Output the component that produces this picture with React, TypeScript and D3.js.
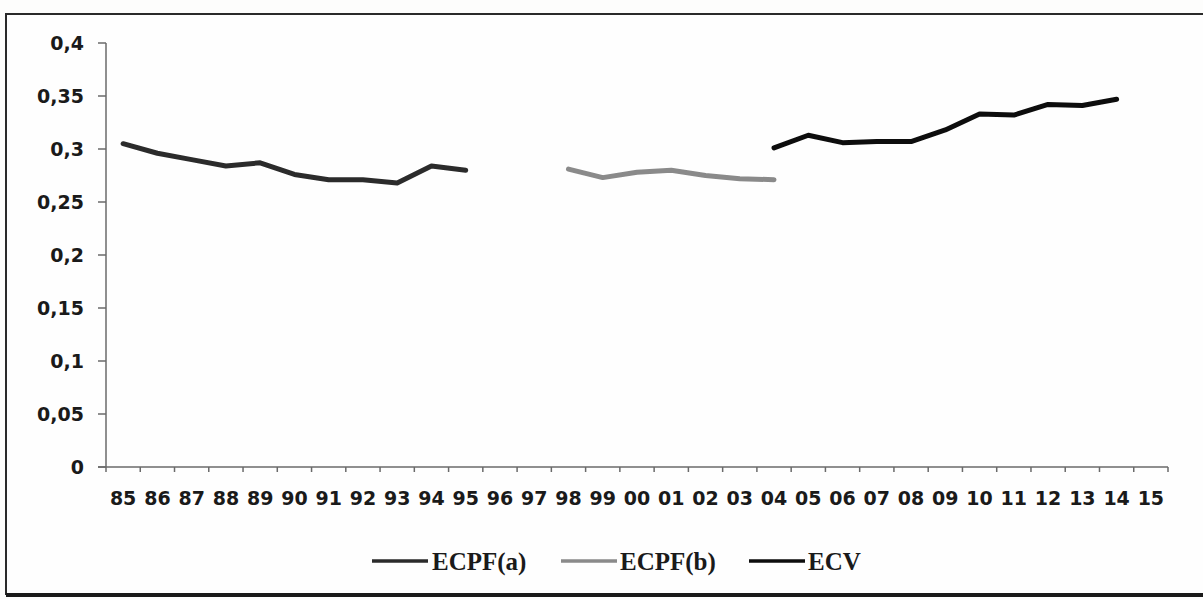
import React from "react";
import * as d3 from "d3";

const categories = ["85","86","87","88","89","90","91","92","93","94","95","96","97","98","99","00","01","02","03","04","05","06","07","08","09","10","11","12","13","14","15"];
const ecpfA: (number | null)[] = [0.305,0.296,0.290,0.284,0.287,0.276,0.271,0.271,0.268,0.284,0.280,null,null,null,null,null,null,null,null,null,null,null,null,null,null,null,null,null,null,null,null];
const ecpfB: (number | null)[] = [null,null,null,null,null,null,null,null,null,null,null,null,null,0.281,0.273,0.278,0.280,0.275,0.272,0.271,null,null,null,null,null,null,null,null,null,null,null];
const ecv: (number | null)[] = [null,null,null,null,null,null,null,null,null,null,null,null,null,null,null,null,null,null,null,0.301,0.313,0.306,0.307,0.307,0.318,0.333,0.332,0.342,0.341,0.347,null];
const yTicks = [0,0.05,0.1,0.15,0.2,0.25,0.3,0.35,0.4];
const seriesNames = ["ECPF(a)","ECPF(b)","ECV"];
const seriesColors = ["#2b2b2b","#8a8a8a","#0d0d0d"];

const W = 1203, H = 599;
const left = 106, right = 1168, top = 43, bottom = 467;

export default function App() {
  const x = d3.scaleBand<string>().domain(categories).range([left, right]).padding(0);
  const y = d3.scaleLinear().domain([0, 0.4]).range([bottom, top]);
  const series = [ecpfA, ecpfB, ecv];
  const line = d3.line<number | null>()
    .defined(d => d !== null)
    .x((_, i) => (x(categories[i]) as number) + x.bandwidth() / 2)
    .y(d => y(d as number));
  const boundaries = categories.map(c => x(c) as number).concat([right]);
  const axisColor = "#6a6a6a";
  const legendItems = [
    { lx: 372, tx: 432 },
    { lx: 561, tx: 620 },
    { lx: 749, tx: 808 },
  ];
  return (
    <svg width={W} height={H} style={{ position: "absolute", left: 0, top: 0, background: "#fdfdfc" }}>
      <rect x={6} y={14} width={1230} height={580} fill="#fefefe" stroke="#2a2a2a" strokeWidth={2} />
      <line x1={6} x2={1203} y1={595} y2={595} stroke="#1a1a1a" strokeWidth={4} />
      {/* y axis */}
      <line x1={left} x2={left} y1={top} y2={bottom} stroke={axisColor} strokeWidth={1.5} />
      {yTicks.map(t => (
        <g key={t}>
          <line x1={left - 8} x2={left} y1={y(t)} y2={y(t)} stroke={axisColor} strokeWidth={1.5} />
          <text x={84} y={y(t)} dy="0.36em" textAnchor="end" fontFamily="DejaVu Sans" fontWeight="bold" fontSize={19} fill="#1a1a1a">
            {String(t).replace(".", ",")}
          </text>
        </g>
      ))}
      {/* x axis */}
      <line x1={left - 8} x2={right} y1={bottom} y2={bottom} stroke={axisColor} strokeWidth={1.5} />
      {boundaries.map((b, i) => (
        <line key={i} x1={b} x2={b} y1={bottom} y2={bottom + 5} stroke={axisColor} strokeWidth={1.5} />
      ))}
      {categories.map(c => (
        <text key={c} x={(x(c) as number) + x.bandwidth() / 2} y={505} textAnchor="middle" fontFamily="DejaVu Sans" fontWeight="bold" fontSize={19} fill="#1a1a1a">
          {c}
        </text>
      ))}
      {/* series */}
      {series.map((s, i) => (
        <path key={i} d={line(s) || ""} fill="none" stroke={seriesColors[i]} strokeWidth={5} strokeLinejoin="round" strokeLinecap="round" />
      ))}
      {/* legend */}
      {legendItems.map((l, i) => (
        <g key={i}>
          <line x1={l.lx} x2={l.lx + 56} y1={561} y2={561} stroke={seriesColors[i]} strokeWidth={3.5} />
          <text x={l.tx} y={570} fontFamily="Liberation Serif" fontWeight="bold" fontSize={25} fill="#1a1a1a">
            {seriesNames[i]}
          </text>
        </g>
      ))}
    </svg>
  );
}
